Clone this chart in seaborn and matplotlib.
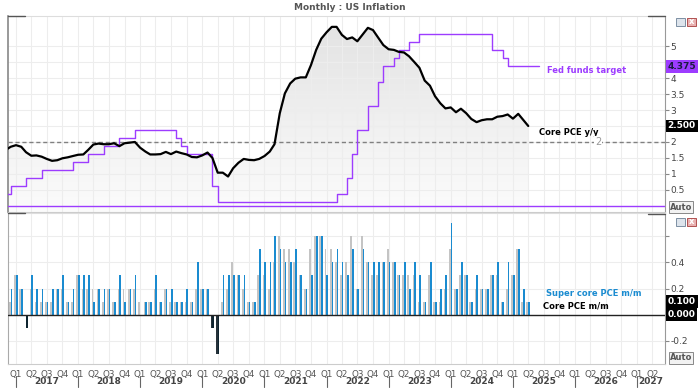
import numpy as np
import pandas as pd
import matplotlib.pyplot as plt
import matplotlib.dates as mdates
from matplotlib.colors import LinearSegmentedColormap
from matplotlib.patches import Polygon, Rectangle
from matplotlib.lines import Line2D
import seaborn as sns

# ---- data ----
# core PCE y/y, monthly Nov 2016 .. Apr 2025
yoy_months = pd.date_range("2016-11-01", "2025-04-01", freq="MS")
core_yoy = [1.75, 1.85, 1.9, 1.85, 1.68, 1.57, 1.58, 1.54, 1.47, 1.41, 1.43, 1.49, 1.52, 1.56,
            1.6, 1.61, 1.75, 1.92, 1.95, 1.93, 1.93, 1.96, 1.87, 1.96, 1.98, 2.0,
            1.82, 1.7, 1.61, 1.61, 1.62, 1.69, 1.62, 1.7, 1.65, 1.61, 1.53, 1.52,
            1.58, 1.67, 1.5, 1.04, 1.04, 0.92, 1.18, 1.35, 1.47, 1.44, 1.43, 1.47,
            1.56, 1.7, 1.93, 2.9, 3.52, 3.83, 3.98, 4.02, 4.02, 4.4, 4.88, 5.23,
            5.43, 5.6, 5.6, 5.35, 5.22, 5.27, 5.15, 5.36, 5.57, 5.5, 5.26, 5.03,
            4.9, 4.88, 4.82, 4.8, 4.68, 4.5, 4.32, 3.92, 3.76, 3.43, 3.21, 3.05,
            3.08, 2.93, 3.04, 2.9, 2.72, 2.62, 2.68, 2.71, 2.71, 2.79, 2.81, 2.86,
            2.73, 2.88, 2.7, 2.5]

# fed funds target midpoint, monthly change points (last point = end of series)
ff_dates = pd.to_datetime([
    "2016-11-01", "2016-12-01", "2017-03-01", "2017-06-01", "2017-12-01", "2018-03-01",
    "2018-06-01", "2018-09-01", "2018-12-01", "2019-08-01", "2019-09-01", "2019-10-01",
    "2020-03-01", "2020-04-01", "2022-03-01", "2022-05-01", "2022-06-01", "2022-07-01",
    "2022-09-01", "2022-11-01", "2022-12-01", "2023-02-01", "2023-03-01", "2023-05-01",
    "2023-07-01", "2024-09-01", "2024-11-01", "2024-12-01", "2025-06-01"])
ff_target = [0.375, 0.625, 0.875, 1.125, 1.375, 1.625, 1.875, 2.125, 2.375, 2.125, 1.875, 1.625,
             0.625, 0.125, 0.375, 0.875, 1.625, 2.375, 3.125, 3.875, 4.375, 4.625, 4.875, 5.125,
             5.375, 4.875, 4.625, 4.375, 4.375]

# m/m changes, monthly Dec 2016 .. Apr 2025
mm_months = pd.date_range("2016-12-01", "2025-04-01", freq="MS")
core_mm = [0.1, 0.3, 0.2, 0.0, 0.2, 0.1, 0.1, 0.1, 0.1, 0.2, 0.2, 0.1, 0.1,
           0.3, 0.2, 0.2, 0.2, 0.2, 0.1, 0.2, 0.1, 0.2, 0.2, 0.2, 0.2,
           0.1, 0.1, 0.1, 0.2, 0.1, 0.2, 0.1, 0.1, 0.1, 0.1, 0.1, 0.2,
           0.2, 0.2, -0.1, -0.3, 0.1, 0.2, 0.4, 0.3, 0.2, 0.1, 0.1, 0.3,
           0.3, 0.2, 0.4, 0.6, 0.5, 0.5, 0.4, 0.3, 0.2, 0.5, 0.6, 0.6,
           0.5, 0.5, 0.4, 0.3, 0.4, 0.6, 0.2, 0.6, 0.4, 0.3, 0.3, 0.4,
           0.5, 0.4, 0.3, 0.3, 0.3, 0.3, 0.1, 0.1, 0.3, 0.1, 0.1, 0.2,
           0.5, 0.2, 0.3, 0.3, 0.1, 0.2, 0.2, 0.2, 0.3, 0.3, 0.1, 0.2,
           0.3, 0.5, 0.1, 0.1]
super_mm = [0.2, 0.3, 0.2, -0.1, 0.3, 0.2, 0.2, 0.1, 0.2, 0.2, 0.3, 0.1, 0.2,
            0.3, 0.3, 0.3, 0.1, 0.2, 0.2, 0.2, 0.1, 0.3, 0.1, 0.2, 0.3,
            0.0, 0.1, 0.1, 0.3, 0.1, 0.2, 0.2, 0.1, 0.1, 0.2, 0.1, 0.4,
            0.2, 0.2, -0.1, -0.3, 0.3, 0.3, 0.3, 0.3, 0.3, 0.1, 0.1, 0.5,
            0.4, 0.4, 0.6, 0.5, 0.4, 0.4, 0.5, 0.3, 0.2, 0.3, 0.6, 0.6,
            0.3, 0.4, 0.5, 0.4, 0.3, 0.5, 0.2, 0.5, 0.4, 0.4, 0.4, 0.4,
            0.4, 0.4, 0.3, 0.4, 0.2, 0.4, 0.3, 0.1, 0.4, 0.1, 0.2, 0.3,
            0.7, 0.2, 0.4, 0.3, 0.1, 0.3, 0.2, 0.2, 0.3, 0.4, 0.1, 0.4,
            0.3, 0.5, 0.2, 0.1]

PURPLE = "#9d3cff"
BLUE = "#1a8bd0"
GREY = "#c4c4c4"
GRID = "#ededed"

sns.set_theme(style="white")
plt.rcParams["font.family"] = ["DejaVu Sans"]

W, H = 700, 388
fig = plt.figure(figsize=(7, 3.88), dpi=100)
ax1 = fig.add_axes([8 / W, 1 - 212 / H, 657 / W, 196 / H])
ax2 = fig.add_axes([8 / W, 1 - 364 / H, 657 / W, 151 / H])

xmin, xmax = pd.Timestamp("2016-11-15"), pd.Timestamp("2027-06-14")
quarters = pd.date_range("2017-01-01", "2027-04-01", freq="QS")

# ---- top panel ----
sns.lineplot(x=yoy_months, y=core_yoy, ax=ax1, color="black", lw=1.6, zorder=4)
sns.lineplot(x=ff_dates, y=ff_target, ax=ax1, color=PURPLE, lw=1.0,
             drawstyle="steps-post", zorder=3)
ax1.axhline(0, color=PURPLE, lw=1.0, zorder=3)
ax1.axhline(2, color="#808080", lw=1.0, ls=(0, (3, 2)), zorder=2)

# gradient shading under core PCE
ybot, ytop = -0.19, 5.94
xs = mdates.date2num(yoy_months)
verts = [(xs[0], ybot)] + list(zip(xs, core_yoy)) + [(xs[-1], ybot)]
poly = Polygon(verts, closed=True, fc="none", ec="none")
ax1.add_patch(poly)
cmap = LinearSegmentedColormap.from_list("g", ["#fcfcfc", "#e2e2e2"])
img = ax1.imshow(np.linspace(0, 1, 256).reshape(-1, 1), cmap=cmap, aspect="auto",
                 origin="lower", extent=[xs[0], xs[-1], ybot, ytop], zorder=0.3)
img.set_clip_path(poly)

ax1.set_xlim(xmin, xmax)
ax1.set_ylim(ybot, ytop)
ax1.set_yticks([0.5, 1, 1.5, 2, 2.5, 3, 3.5, 4, 4.5, 5])
# 2.5 and 4.5 sit under the last-value boxes
ax1.set_yticklabels(["0.5", "1", "1.5", "2", "", "3", "3.5", "4", "", "5"])
ax1.set_xticks(quarters)
ax1.tick_params(axis="x", length=0, labelbottom=False)

# ---- bottom panel ----
ax2.bar(mm_months - pd.Timedelta(days=5.5), core_mm, width=10, linewidth=0, edgecolor="none",
        color=[GREY if v >= 0 else "#26323a" for v in core_mm], zorder=2)
ax2.bar(mm_months + pd.Timedelta(days=4.5), super_mm, width=10, linewidth=0, edgecolor="none",
        color=[BLUE if v >= 0 else "#0f2530" for v in super_mm], zorder=2)
ax2.axhline(0, color="#222222", lw=1.0, zorder=3)
ax2.set_xlim(xmin, xmax)
ax2.set_ylim(-0.377, 0.777)
ax2.set_yticks([-0.2, 0.2, 0.4, 0.6])
ax2.set_yticklabels(["-0.2", "0.2", "0.4", ""])
ax2.set_xticks(quarters)
ax2.set_xticklabels(["Q%d" % q.quarter for q in quarters])

for ax in (ax1, ax2):
    ax.set_xlabel("")
    ax.set_ylabel("")
    ax.set_axisbelow(True)
    ax.grid(True, color=GRID, lw=0.8)
    ax.yaxis.tick_right()
    ax.tick_params(axis="y", length=3, width=0.8, color="#888888", pad=1,
                   labelsize=6.5, labelcolor="#444444")
    ax.tick_params(axis="x", labelsize=6.3, labelcolor="#555555", length=3,
                   color="#888888", pad=1)
    ax.spines["right"].set_color("#999999")
    ax.spines["top"].set_color("#dddddd")
    ax.spines["bottom"].set_color("#cccccc")
    ax.spines["left"].set_color("#aaaaaa")
    for s in ax.spines.values():
        s.set_linewidth(0.8)
ax1.spines["left"].set_color("#888888")
ax1.spines["left"].set_linewidth(1.2)

# year labels and separators
xt = ax2.get_xaxis_transform()
for yr in range(2017, 2028):
    a = max(pd.Timestamp(f"{yr}-01-01"), xmin)
    b = min(pd.Timestamp(f"{yr + 1}-01-01"), xmax)
    ax2.text(a + (b - a) / 2, -0.118, str(yr), transform=xt, ha="center", va="center",
             fontsize=6.5, fontweight="bold", color="#444444", clip_on=False)
    ax2.add_line(Line2D([pd.Timestamp(f"{yr}-01-01")] * 2, [-0.08, -0.15], transform=xt,
                        color="#666666", lw=0.8, clip_on=False))

# series labels
yt1 = ax1.get_yaxis_transform()
yt2 = ax2.get_yaxis_transform()
ax1.text(0.8205, 4.22, "Fed funds target", transform=yt1, color=PURPLE, fontsize=6,
         fontweight="bold", va="center")
ax1.text(0.808, 2.31, "Core PCE y/y", transform=yt1, color="black", fontsize=6,
         fontweight="bold", va="center")
ax1.text(0.898, 2, "2", transform=yt1, color="#999999", fontsize=7, va="center",
         ha="center", bbox=dict(boxstyle="square,pad=0.1", fc="white", ec="none"), zorder=5)
ax2.text(0.819, 0.16, "Super core PCE m/m", transform=yt2, color=BLUE, fontsize=6,
         fontweight="bold", va="center")
ax2.text(0.814, 0.07, "Core PCE m/m", transform=yt2, color="black", fontsize=6,
         fontweight="bold", va="center")


def value_box(ax, y, txt, bg, fg):
    ax.text(1.004, y, txt, transform=ax.get_yaxis_transform(), ha="left", va="center",
            fontsize=6.5, fontweight="bold", color=fg, clip_on=False, zorder=10,
            bbox=dict(boxstyle="square,pad=0.22", fc=bg, ec="none"))


value_box(ax1, ff_target[-1], "4.375", PURPLE, "#1a1a40")
value_box(ax1, core_yoy[-1], "2.500", "black", "white")
value_box(ax2, super_mm[-1], "0.100", "black", "white")
value_box(ax2, 0.0, "0.000", "black", "white")

# chrome: title, auto buttons, small window buttons, corner handles
fig.text(0.5, 1 - 8 / H, "Monthly : US Inflation", ha="center", va="center", fontsize=6.5,
         fontweight="bold", color="#555555")
for yy in (207, 358):
    fig.text(681 / W, 1 - yy / H, "Auto", ha="center", va="center", fontsize=6,
             fontweight="bold", color="#555555",
             bbox=dict(boxstyle="square,pad=0.15", fc="#f2f2f2", ec="#888888", lw=0.7))
for yy in (22, 222):
    fig.patches.append(Rectangle((676 / W, 1 - (yy + 4) / H), 9 / W, 8 / H,
                                 transform=fig.transFigure, fc="#dde4ec", ec="#7d8fa3", lw=0.7))
    fig.patches.append(Rectangle((687 / W, 1 - (yy + 4) / H), 9 / W, 8 / H,
                                 transform=fig.transFigure, fc="#e9b1b1", ec="#b05050", lw=0.7))
    fig.text(691.5 / W, 1 - yy / H, "x", ha="center", va="center", fontsize=6,
             color="white", fontweight="bold")
for (x0, x1, yy) in ((8, 25, 16), (648, 665, 16), (8, 25, 213), (648, 665, 214)):
    fig.lines.append(Line2D([x0 / W, x1 / W], [1 - yy / H] * 2, transform=fig.transFigure,
                            color="#555555", lw=1.0))

fig.savefig("out.png", dpi=100, facecolor="white")
